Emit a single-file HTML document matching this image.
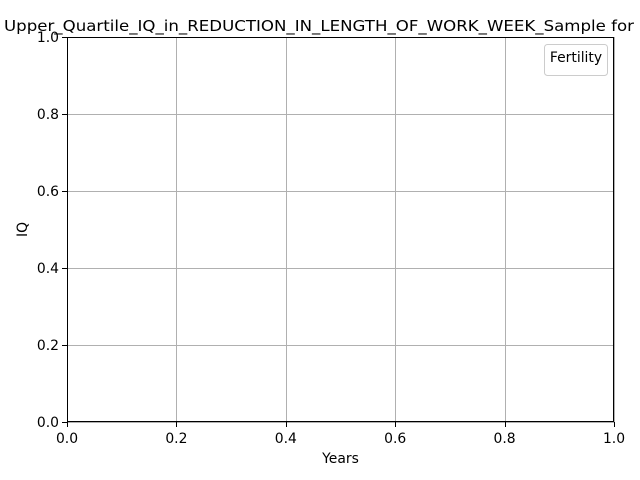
<!DOCTYPE html>
<html><head><meta charset="utf-8"><style>
html,body{margin:0;padding:0;background:#fff;}
svg{display:block;font-family:"DejaVu Sans","Liberation Sans",sans-serif;}
</style></head><body>
<svg id="chart" width="640" height="480" viewBox="0 0 640 480">
<rect width="640" height="480" fill="#fff"/>
<g id="grid"></g>
<g id="ticks"></g>
<rect x="67.5" y="37.5" width="546" height="384" fill="none" stroke="#000" stroke-width="1"/>
<text x="4" y="31" font-size="15.5" textLength="630" lengthAdjust="spacingAndGlyphs">Upper_Quartile_IQ_in_REDUCTION_IN_LENGTH_OF_WORK_WEEK_Sample for</text>
<text x="340.5" y="463" font-size="13.9" text-anchor="middle">Years</text>
<text x="27" y="229.5" font-size="13.9" text-anchor="middle" transform="rotate(-90 27 229.5)">IQ</text>
<g>
<rect x="544.5" y="44.5" width="63" height="31" rx="3" fill="#fff" fill-opacity="0.8" stroke="#ccc"/>
<text x="576" y="62" font-size="13.9" text-anchor="middle">Fertility</text>
</g>
</svg>
<script>
const xTicks=[0.0,0.2,0.4,0.6,0.8,1.0];
const yTicks=[0.0,0.2,0.4,0.6,0.8,1.0];
const seriesYears=[];
const seriesIQ=[];
const X0=67,X1=614,Y0=422,Y1=37;
const xs=v=>X0+(v-0)/(1-0)*(X1-X0);
const ys=v=>Y0-(v-0)/(1-0)*(Y0-Y1);
const NS="http://www.w3.org/2000/svg";
const grid=document.getElementById('grid'),ticks=document.getElementById('ticks');
function mk(tag,attrs,parent){const e=document.createElementNS(NS,tag);for(const k in attrs)e.setAttribute(k,attrs[k]);parent.appendChild(e);return e;}
xTicks.forEach(v=>{
 const x=Math.round(xs(v))+0.5;
 const g=mk('line',{x1:x,x2:x,y1:Y1,y2:Y0,stroke:'#b0b0b0','stroke-width':1},grid);
 
 
 const t=mk('line',{x1:x,x2:x,y1:Y0,y2:Y0+5,stroke:'#000','stroke-width':1},ticks);
 
 
 const l=mk('text',{x:xs(v),y:Y0+21,'font-size':13.9,'text-anchor':'middle'},ticks);
 l.textContent=v.toFixed(1);
 
 
});
yTicks.forEach(v=>{
 const y=Math.round(ys(v))+0.5;
 const g=mk('line',{x1:X0,x2:X1,y1:y,y2:y,stroke:'#b0b0b0','stroke-width':1},grid);
 
 
 const t=mk('line',{x1:X0-5,x2:X0,y1:y,y2:y,stroke:'#000','stroke-width':1},ticks);
 
 
 const l=mk('text',{x:X0-8,y:ys(v)+5,'font-size':13.9,'text-anchor':'end'},ticks);
 l.textContent=v.toFixed(1);
 
 
});
</script>
</body></html>
